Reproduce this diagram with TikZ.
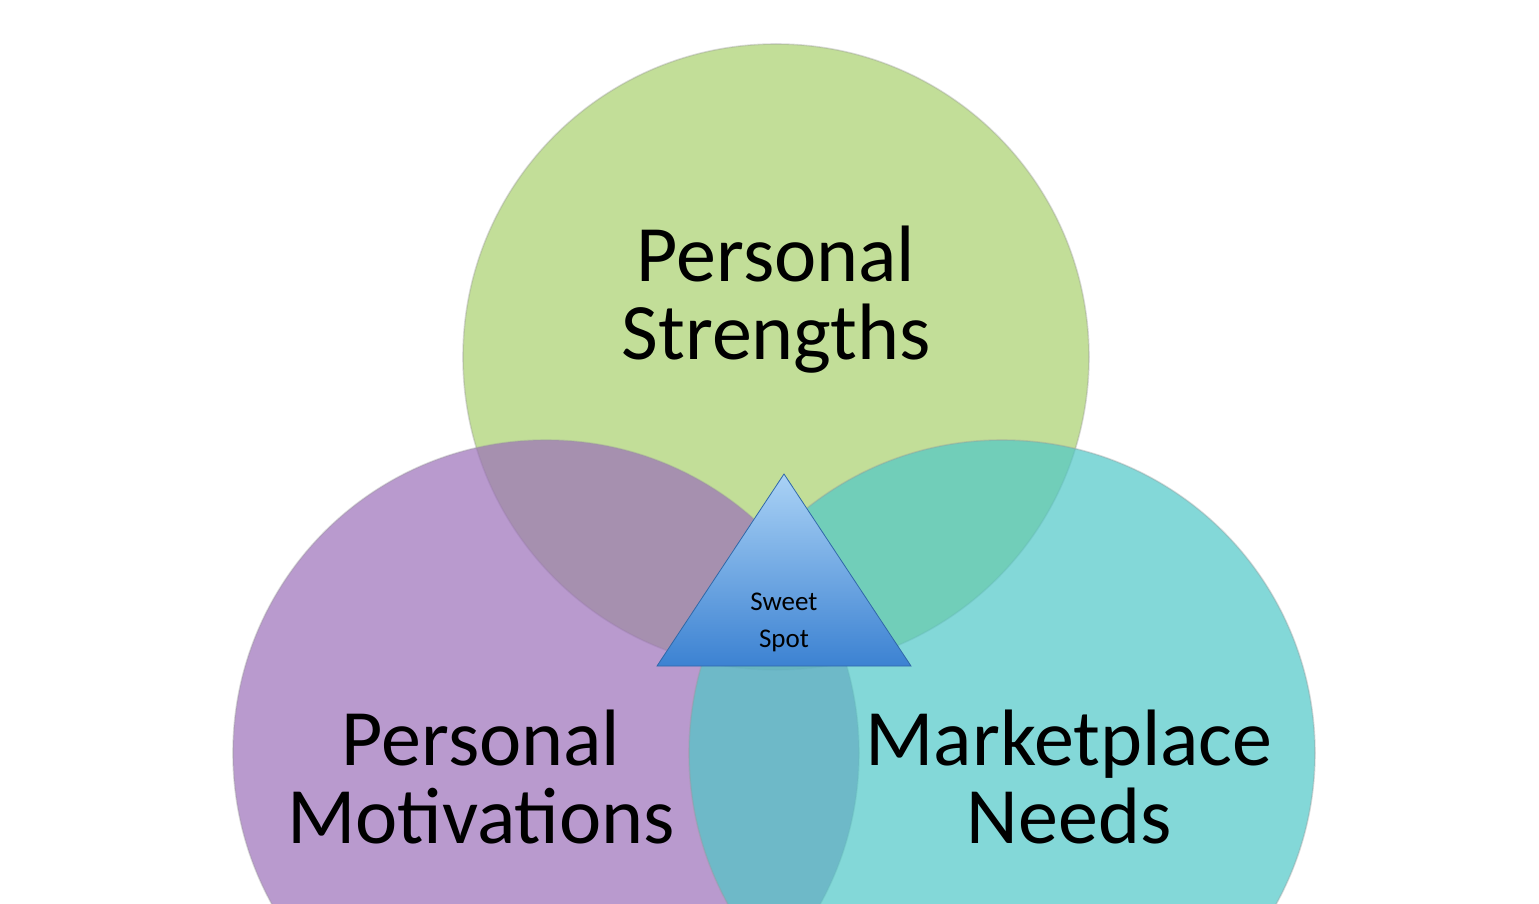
\documentclass[tikz,border=0pt]{standalone}
\usepackage{fontspec}
\setmainfont{Carlito}
\usetikzlibrary{positioning}
\definecolor{strengthC}{RGB}{168,208,108}
\definecolor{motivC}{RGB}{155,111,185}
\definecolor{needsC}{RGB}{79,199,199}
\definecolor{tipTop}{RGB}{170,210,245}
\definecolor{tipBot}{RGB}{60,130,210}
\begin{document}
\begin{tikzpicture}[x=0.5pt,y=-0.5pt,
venn/.style = {circle, minimum size=313pt, inner sep=0pt, fill opacity=0.7, draw opacity=0.35, draw=black!40, thick},
biglabel/.style = {align=center, font=\fontsize{40}{39}\selectfont},
smalllabel/.style = {align=center, font=\fontsize{13.5}{18.5}\selectfont}
]
\useasboundingbox (0,0) rectangle (1539,904);
\clip (0,0) rectangle (1539,904);
\node (S) [venn, fill=strengthC] at (776,357) {};
\node (M) [venn, fill=motivC] at (546,753) {};
\node (N) [venn, fill=needsC] at (1002,753) {};

\node (St) [biglabel] at (776,300) {Personal\\Strengths};
\node (Mt) [biglabel] at (481,777) {Personal\\Motivations};
\node (Nt) [biglabel] at (1069,777) {Marketplace\\Needs};

% sweet spot
\shade[top color=tipTop, bottom color=tipBot, draw=tipBot!80!black, thin]
  (784,474) -- (911,666) -- (657,666) -- cycle;
\node (SS) [smalllabel] at (784,622) {Sweet\\Spot};
\end{tikzpicture}
\end{document}
